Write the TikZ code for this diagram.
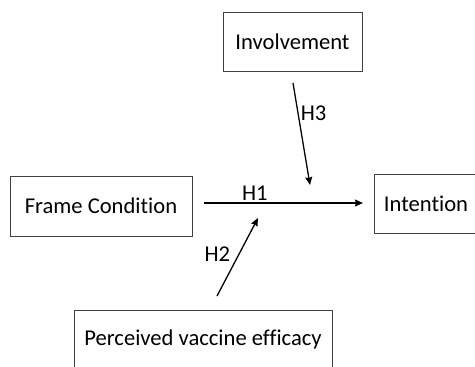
\documentclass[tikz,border=0pt]{standalone}
\usepackage{fontspec}
\setmainfont{Carlito}[Ligatures=NoCommon]
\usetikzlibrary{arrows.meta,positioning}
\tikzset{
  varbox/.style={
    draw = black!75,
    line width = 1pt,
    inner sep = 0pt,
    minimum height = 59pt,
    font = \fontsize{22.6}{27}\selectfont
  },
  path/.style={
    line width = 1.3pt,
    -{Stealth[length=8pt,width=7pt,inset=1pt]}
  },
  hyp/.style={
    font = \fontsize{22.6}{27}\selectfont,
    inner sep = 2pt
  }
}

\begin{document}
\begin{tikzpicture}[x=1pt,y=-1pt]
  \useasboundingbox (0,0) rectangle (475,367);
  \node[varbox, minimum width=139pt] (involve) at (292.5,41.5) {Involvement};
  \node[varbox, minimum width=182pt, minimum height=60pt] (frame) at (101,206) {Frame Condition};
  \node[varbox, minimum width=104pt] (intent) at (426,203.5) {Intention};
  \node[varbox, minimum width=258pt, minimum height=58pt] (efficacy) at (203,339) {Perceived vaccine efficacy};
  % hypotheses
  \coordinate (h1a) at (204,203);
  \coordinate (h1b) at (363,203);
  \coordinate (h3a) at (293,83);
  \coordinate (h3b) at (310,185);
  \coordinate (h2a) at (217,296);
  \coordinate (h2b) at (258,218);
  \draw[path] (h1a) -- node[hyp, pos=0.32, above] (lh1) {H1} (h1b);
  \draw[path] (h3a) -- node[hyp, pos=0.3, right] (lh3) {H3} (h3b);
  \draw[path] (h2a) -- node[hyp, pos=0.53, left, xshift=-6pt] (lh2) {H2} (h2b);
\end{tikzpicture}
\end{document}
